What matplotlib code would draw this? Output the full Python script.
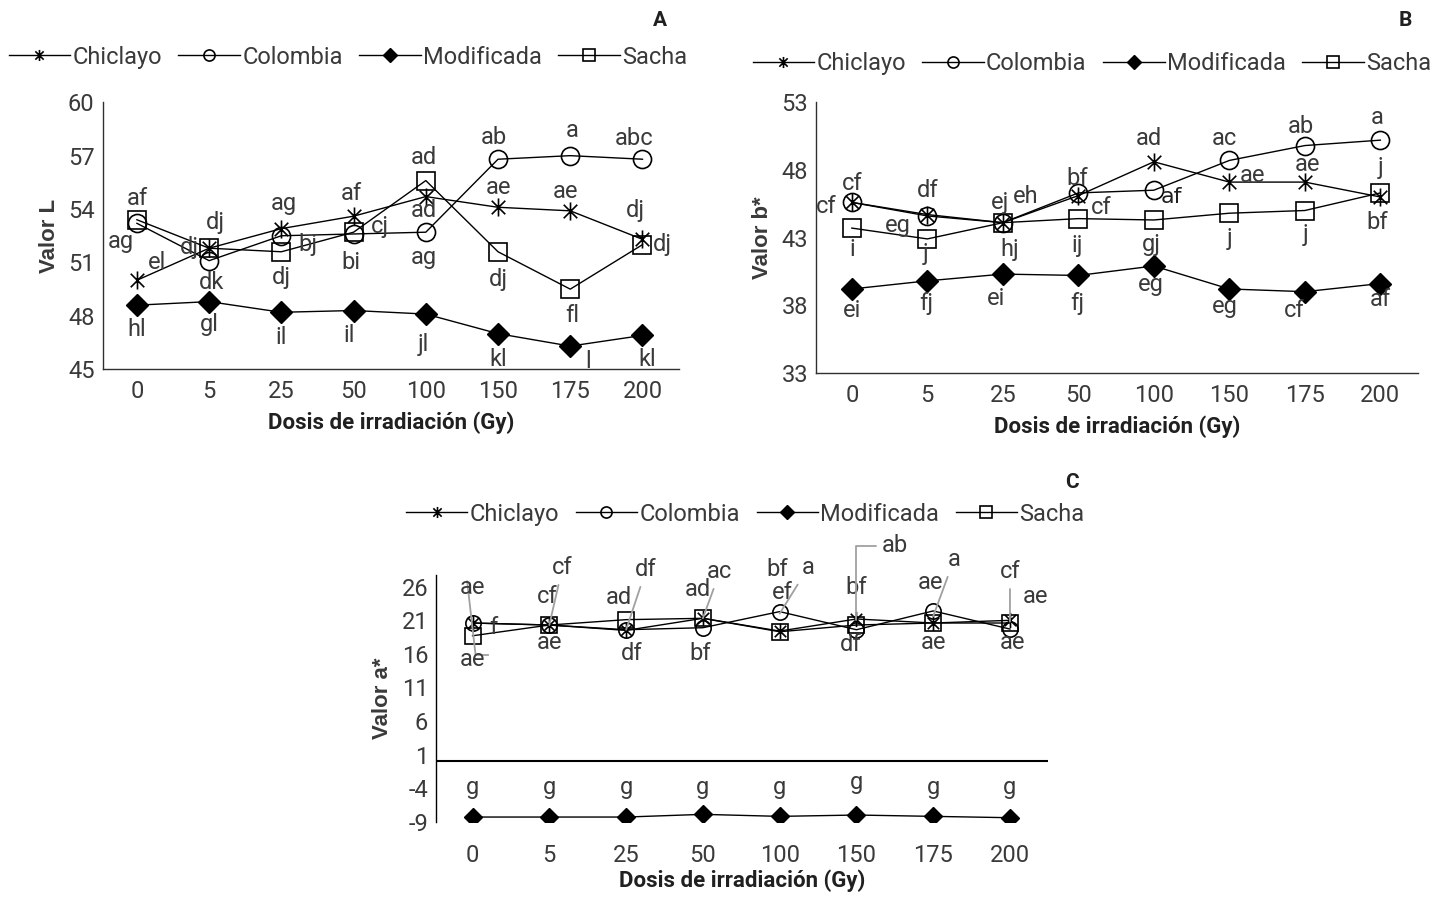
import matplotlib
matplotlib.use("Agg")
import matplotlib.pyplot as plt
from matplotlib.path import Path
from matplotlib.lines import Line2D

plt.rcParams['font.family'] = ['Roboto', 'DejaVu Sans']
plt.rcParams['axes.unicode_minus'] = False

# dose categories (Gy)
doses = ["0", "5", "25", "50", "100", "150", "175", "200"]
series_names = ["Chiclayo", "Colombia", "Modificada", "Sacha"]

# Panel A - Valor L
L_chiclayo = [50.0, 51.8, 52.9, 53.6, 54.7, 54.1, 53.9, 52.3]
L_colombia = [53.2, 51.1, 52.5, 52.6, 52.7, 56.8, 57.0, 56.8]
L_modificada = [48.6, 48.8, 48.2, 48.3, 48.1, 47.0, 46.3, 46.9]
L_sacha = [53.4, 51.8, 51.6, 52.7, 55.6, 51.6, 49.5, 52.0]

# Panel B - Valor b*
b_chiclayo = [45.6, 44.7, 44.1, 46.1, 48.6, 47.1, 47.1, 46.0]
b_colombia = [45.6, 44.6, 44.1, 46.3, 46.5, 48.7, 49.8, 50.2]
b_modificada = [39.2, 39.8, 40.3, 40.2, 40.9, 39.2, 39.0, 39.6]
b_sacha = [43.7, 42.9, 44.1, 44.4, 44.3, 44.8, 45.0, 46.3]

# Panel C - Valor a*
a_chiclayo = [20.6, 20.3, 19.5, 21.3, 19.4, 21.2, 20.6, 21.0]
a_colombia = [20.6, 20.3, 19.6, 19.9, 22.3, 19.6, 22.4, 19.7]
a_modificada = [-8.3, -8.3, -8.3, -7.9, -8.2, -8.0, -8.2, -8.4]
a_sacha = [18.7, 20.3, 21.1, 21.3, 19.3, 20.3, 20.6, 20.6]

# significance letters: (category index, y, text)
labels_A = [
    (0, 54.6, "af"), (-0.22, 52.2, "ag"), (0.28, 51.0, "el"), (0, 47.25, "hl"),
    (1.09, 53.25, "dj"), (0.72, 51.85, "dj"), (1.03, 49.9, "dk"), (1.0, 47.5, "gl"),
    (2.03, 54.3, "ag"), (2.37, 52.0, "bj"), (2.0, 50.15, "dj"), (2.0, 46.8, "il"),
    (2.97, 54.85, "af"), (3.37, 53.0, "cj"), (2.97, 51.0, "bi"), (2.94, 46.9, "il"),
    (3.97, 56.9, "ad"), (3.97, 53.9, "ad"), (3.97, 51.3, "ag"), (3.97, 46.4, "jl"),
    (4.94, 58.0, "ab"), (5.0, 55.2, "ae"), (5.0, 50.05, "dj"), (5.0, 45.55, "kl"),
    (6.03, 58.4, "a"), (5.94, 55.0, "ae"), (6.03, 48.0, "fl"), (6.25, 45.45, "l"),
    (6.88, 57.95, "abc"), (6.9, 53.9, "dj"), (7.28, 52.0, "dj"), (7.06, 45.55, "kl"),
]
labels_B = [
    (0, 47.0, "cf"), (-0.34, 45.3, "cf"), (0, 42.15, "i"),
    (1.01, 46.5, "df"), (0.61, 43.9, "eg"), (0.98, 41.8, "j"),
    (1.96, 45.6, "ej"), (2.3, 46.05, "eh"), (2.09, 42.15, "hj"),
    (2.98, 47.4, "bf"), (3.31, 45.2, "cf"), (2.98, 42.4, "ij"),
    (3.93, 50.3, "ad"), (3.96, 42.5, "gj"),
    (4.94, 50.3, "ac"), (5.31, 47.6, "ae"), (5.0, 42.9, "j"),
    (5.95, 51.2, "ab"), (6.04, 48.4, "ae"), (6.01, 43.2, "j"),
    (6.96, 51.9, "a"), (7.0, 48.2, "j"), (6.96, 44.1, "bf"),
    (0, 37.6, "ei"), (0.98, 38.1, "fj"), (1.91, 38.5, "ei"), (2.98, 38.1, "fj"),
    (3.96, 39.5, "eg"), (4.94, 37.9, "eg"), (5.86, 37.6, "cf"), (7.0, 38.4, "af"),
]
labels_C = [
    (0, 25.9, "ae"), (0.27, 19.9, "f"), (0, 15.2, "ae"),
    (0.97, 24.5, "cf"), (1.0, 17.7, "ae"),
    (1.9, 24.4, "ad"), (2.07, 16.0, "df"),
    (2.94, 25.6, "ad"), (2.96, 16.0, "bf"),
    (3.97, 28.5, "bf"), (4.03, 25.1, "ef"),
    (5.0, 25.9, "bf"), (4.93, 17.4, "df"),
    (5.96, 26.6, "ae"), (6.0, 17.7, "ae"),
    (7.33, 24.5, "ae"), (7.03, 17.7, "ae"),
    (0, -3.9, "g"), (1, -3.9, "g"), (2, -3.9, "g"), (3, -3.9, "g"),
    (4, -3.9, "g"), (5, -3.2, "g"), (6, -3.9, "g"), (7, -3.9, "g"),
]
# letters joined to their point by a grey leader line: (text x, text y, point x, point y, text)
leaders_C = [
    (1.17, 28.8, 1.0, 20.3, "cf"), (2.26, 28.5, 2.0, 19.6, "df"),
    (3.22, 28.2, 3.0, 21.3, "ac"), (4.37, 28.8, 4.0, 22.0, "a"),
    (6.27, 30.0, 6.0, 21.6, "a"), (7.0, 28.2, 7.0, 20.8, "cf"),
]

TXT = "#3a3a3a"

star = Path([(0, -1), (0, 1), (-0.75, -0.75), (0.75, 0.75), (-0.75, 0.75), (0.75, -0.75)],
            [Path.MOVETO, Path.LINETO, Path.MOVETO, Path.LINETO, Path.MOVETO, Path.LINETO])
styles = [
    dict(marker=star, markerfacecolor='none', markeredgewidth=1.2),
    dict(marker='o', markerfacecolor='none', markeredgewidth=1.2),
    dict(marker='D', markerfacecolor='black', markeredgewidth=1.0),
    dict(marker='s', markerfacecolor='none', markeredgewidth=1.2),
]

fig = plt.figure(figsize=(14.5, 9.05), dpi=100)


def panel(rect, data, ylim, yticks, ylabel, ms, xpad=8, xlabelpad=6):
    ax = fig.add_axes(rect)
    x = list(range(len(doses)))
    for vals, st in zip(data, styles):
        size = ms * 0.85 if st['marker'] == 'D' else ms
        ax.plot(x, vals, color='black', lw=1.0, markersize=size,
                markeredgecolor='black', **st)
    ax.set_xlim(-0.47, 7.5)
    ax.set_ylim(*ylim)
    ax.set_yticks(yticks)
    ax.set_xticks(x)
    ax.set_xticklabels(doses)
    ax.tick_params(length=0, labelsize=17, labelcolor=TXT)
    ax.tick_params(axis='x', pad=xpad)
    ax.tick_params(axis='y', pad=6)
    for s in ['top', 'right']:
        ax.spines[s].set_visible(False)
    for s in ['left', 'bottom']:
        ax.spines[s].set_color('#303030')
        ax.spines[s].set_linewidth(1.0)
    ax.set_ylabel(ylabel, fontsize=16, fontweight='bold', color='#3a3a3a',
                  family=['Liberation Sans', 'DejaVu Sans'], labelpad=6)
    ax.set_xlabel("Dosis de irradiación (Gy)", fontsize=16, fontweight='bold',
                  color='#202020', labelpad=xlabelpad)
    return ax


def letters(ax, labels, size=17):
    for lx, ly, t in labels:
        ax.text(lx, ly, t, fontsize=size, color=TXT, ha='center', va='center',
                clip_on=False)


def legend(ax, anchor, ms):
    handles = []
    for name, st in zip(series_names, styles):
        size = ms * 0.85 if st['marker'] == 'D' else ms
        handles.append(Line2D([], [], color='black', lw=1.0, markersize=size,
                              markeredgecolor='black', label=name, **st))
    ax.legend(handles=handles, loc='center', bbox_to_anchor=anchor,
              bbox_transform=fig.transFigure, ncol=4, frameon=False,
              fontsize=17, handlelength=2.6, handletextpad=0.1,
              columnspacing=0.7, labelcolor=TXT)


# Panel A
axA = panel([0.071, 0.592, 0.397, 0.295],
            [L_chiclayo, L_colombia, L_modificada, L_sacha],
            (45, 60), [45, 48, 51, 54, 57, 60], "Valor L", 13)
letters(axA, labels_A)
legend(axA, (0.24, 0.937), 8)
fig.text(0.455, 0.977, "A", fontsize=15, fontweight='bold', color='#202020', ha='center', va='center')

# Panel B
axB = panel([0.563, 0.588, 0.415, 0.299],
            [b_chiclayo, b_colombia, b_modificada, b_sacha],
            (33, 53), [33, 38, 43, 48, 53], "Valor b*", 13)
letters(axB, labels_B)
axB.text(4.23, 46.0, "af", fontsize=16, color='#202020', ha='center', va='center',
         family='DejaVu Sans')
legend(axB, (0.753, 0.930), 8)
fig.text(0.969, 0.977, "B", fontsize=15, fontweight='bold', color='#202020', ha='center', va='center')

# Panel C
axC = panel([0.301, 0.092, 0.422, 0.273],
            [a_chiclayo, a_colombia, a_modificada, a_sacha],
            (-9, 27.8), [-9, -4, 1, 6, 11, 16, 21, 26], "Valor a*", 11,
            xpad=16, xlabelpad=2)
axC.spines['bottom'].set_visible(False)
axC.axhline(0, color='black', lw=1.5)
axC.spines['left'].set_color('black')
letters(axC, labels_C)
for tx, ty, px, py, t in leaders_C:
    axC.annotate(t, xy=(px, py), xytext=(tx, ty), fontsize=17, color=TXT,
                 ha='center', va='center', annotation_clip=False,
                 arrowprops=dict(arrowstyle='-', color='#a0a0a0', lw=1.3,
                                 shrinkA=2, shrinkB=0))
axC.plot([-0.07, 0.04], [26.8, 15.8], color='#a0a0a0', lw=1.3, clip_on=False)
axC.plot([0.04, 0.2], [15.8, 15.8], color='#a0a0a0', lw=1.3, clip_on=False)
axC.annotate("ab", xy=(5.0, 21.0), xytext=(5.5, 32.1), fontsize=17, color=TXT,
             ha='center', va='center', annotation_clip=False,
             arrowprops=dict(arrowstyle='-', color='#a0a0a0', lw=1.3, shrinkA=2, shrinkB=0,
                             connectionstyle="angle,angleA=0,angleB=90,rad=0"))
legend(axC, (0.514, 0.432), 8)
fig.text(0.739, 0.467, "C", fontsize=15, fontweight='bold', color='#202020', ha='center', va='center')

fig.savefig("out.png", dpi=100)
